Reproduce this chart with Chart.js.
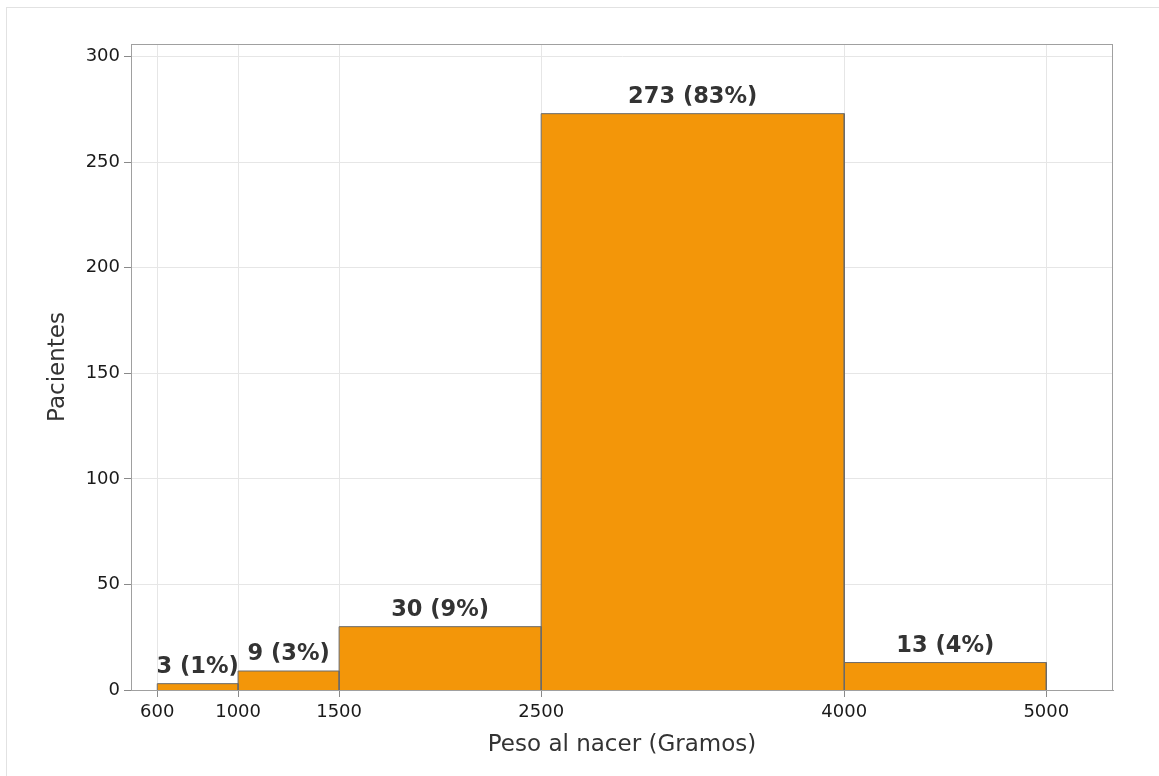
<!DOCTYPE html>
<html lang="es">
<head>
  <meta charset="UTF-8" />
  <title>Peso al nacer</title>
  <script src="https://cdn.jsdelivr.net/npm/chart.js"></script>
  <style>
    * { margin: 0; padding: 0; box-sizing: border-box; }
    body { background: #fff; width: 1159px; height: 776px; overflow: hidden; position: relative; }
    .frame {
      position: absolute; left: 6px; top: 7px; right: -4px; bottom: -4px;
      border: 1px solid #e2e2e2;
    }
    #chart { position: absolute; left: 0; top: 0; }
  </style>
</head>
<body>
  <div class="frame"></div>
  <canvas id="chart" width="1159" height="776"></canvas>

  <script>
    // bin edges (grams), counts per bin and their share
    const binEdges = [600, 1000, 1500, 2500, 4000, 5000];
    const counts = [3, 9, 30, 273, 13];
    const percents = [1, 3, 9, 83, 4];
    const yTicks = [0, 50, 100, 150, 200, 250, 300];

    const orange = '#f39609';
    const textColor = '#333';

    // one closed rectangle per bin, drawn as a filled line on the linear scales
    const datasets = counts.map((c, i) => ({
      label: binEdges[i] + '-' + binEdges[i + 1],
      data: [
        { x: binEdges[i], y: 0 },
        { x: binEdges[i], y: c },
        { x: binEdges[i + 1], y: c },
        { x: binEdges[i + 1], y: 0 }
      ],
      showLine: true,
      fill: 'origin',
      backgroundColor: orange,
      borderColor: '#6a6a6a',
      borderWidth: 1,
      pointRadius: 0,
      tension: 0
    }));

    const frameBox = {
      id: 'frameBox',
      beforeDatasetsDraw(chart) {
        const { ctx, chartArea: a } = chart;
        ctx.save();
        ctx.strokeStyle = '#a0a0a0';
        ctx.lineWidth = 1;
        ctx.strokeRect(a.left + 0.5, a.top + 0.5, a.right - a.left - 1, a.bottom - a.top);
        ctx.restore();
      }
    };

    const barLabels = {
      id: 'barLabels',
      afterDatasetsDraw(chart) {
        const { ctx, scales: { x, y } } = chart;
        ctx.save();
        ctx.font = 'bold 22.5px "DejaVu Sans"';
        ctx.fillStyle = textColor;
        ctx.textAlign = 'center';
        ctx.textBaseline = 'alphabetic';
        counts.forEach((c, i) => {
          const cx = (x.getPixelForValue(binEdges[i]) + x.getPixelForValue(binEdges[i + 1])) / 2;
          ctx.fillText(c + ' (' + percents[i] + '%)', cx, y.getPixelForValue(c) - 11);
        });
        ctx.restore();
      }
    };

    new Chart(document.getElementById('chart'), {
      type: 'scatter',
      data: { datasets },
      options: {
        responsive: false,
        animation: false,
        layout: { padding: { top: 44, right: 46, bottom: 0, left: 0 } },
        plugins: { legend: { display: false }, tooltip: { enabled: false } },
        scales: {
          x: {
            type: 'linear',
            min: 470,
            max: 5330,
            afterBuildTicks: s => { s.ticks = binEdges.map(v => ({ value: v })); },
            afterFit: s => { s.height = 86; },
            grid: { color: '#e6e6e6', tickColor: '#8a8a8a', tickLength: 7 },
            border: { color: '#a0a0a0' },
            ticks: {
              font: { family: 'DejaVu Sans', size: 18 },
              color: '#1a1a1a',
              padding: 5,
              maxRotation: 0,
              autoSkip: false,
              callback: v => String(v)
            },
            title: {
              display: true,
              text: 'Peso al nacer (Gramos)',
              font: { family: 'DejaVu Sans', size: 23 },
              color: textColor,
              padding: { top: 0, bottom: 17 }
            }
          },
          y: {
            min: 0,
            max: 306,
            afterBuildTicks: s => { s.ticks = yTicks.map(v => ({ value: v })); },
            afterFit: s => { s.width = 131; },
            grid: { color: '#e6e6e6', tickColor: '#8a8a8a', tickLength: 7 },
            border: { color: '#a0a0a0' },
            ticks: {
              font: { family: 'DejaVu Sans', size: 18 },
              color: '#1a1a1a',
              padding: 4,
              callback: v => String(v)
            },
            title: {
              display: true,
              text: 'Pacientes',
              font: { family: 'DejaVu Sans', size: 23 },
              color: textColor,
              padding: { top: 44, bottom: 0 }
            }
          }
        }
      },
      plugins: [frameBox, barLabels]
    });
  </script>
</body>
</html>
